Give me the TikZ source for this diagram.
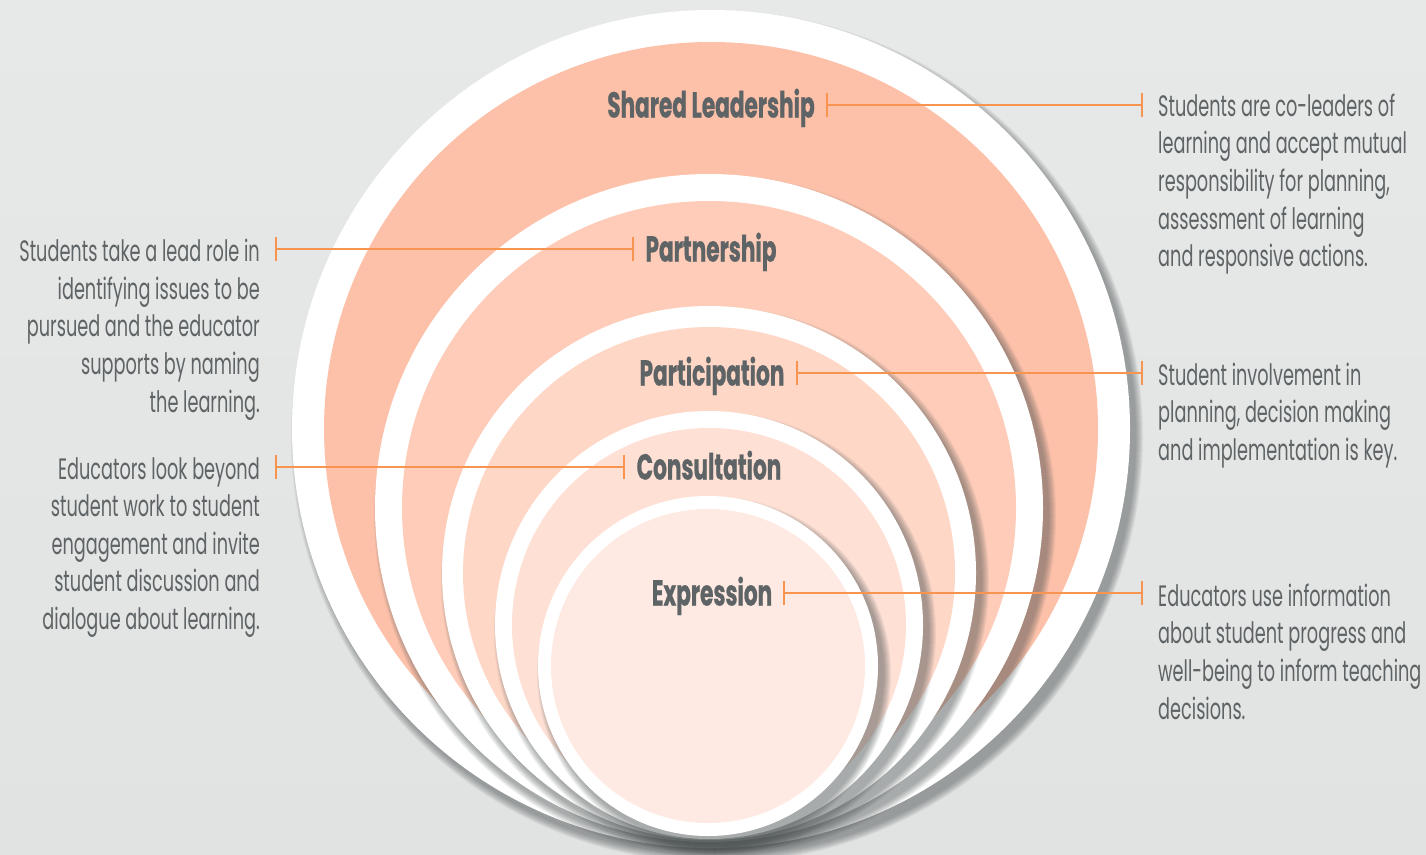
\documentclass[tikz,border=0pt]{standalone}
\usepackage{fontspec}
\usetikzlibrary{arrows.meta}
\newfontfamily\descfont{Poppins}[FakeStretch=0.6]
\newfontfamily\lblfont{Poppins}[FakeStretch=0.6, FakeBold=0.7]

\definecolor{bgTop}{HTML}{E7E8E8}
\definecolor{bgBottom}{HTML}{E1E2E2}
\definecolor{textGray}{HTML}{5E6465}
\definecolor{shadowGray}{HTML}{4A5050}
\definecolor{lineOrange}{HTML}{F79450}
\definecolor{sharedFill}{HTML}{FDC1AA}
\definecolor{partnerFill}{HTML}{FECCB8}
\definecolor{participFill}{HTML}{FED7C7}
\definecolor{consultFill}{HTML}{FEE0D5}
\definecolor{expressFill}{HTML}{FEEAE3}

% soft shadow of a ring: centre x, centre y, radius
\newcommand{\ringshadow}[3]{%
  \foreach \k in {0,...,7} {\fill[shadowGray, opacity=0.075] ({#1+6},{#2+8}) circle ({(#3+\k)*1pt});}
}

\tikzset{
  lbl/.style={font=\lblfont\bfseries\fontsize{36}{40}\selectfont, text=textGray,
    inner xsep=11pt, inner ysep=0pt, text height=25pt, text depth=0pt},
  desc/.style={font=\descfont\fontsize{29.5}{37.6}\selectfont, text=textGray,
    inner xsep=15pt, inner ysep=0pt},
  tick/.style={draw=lineOrange, line width=2pt, {Bar[width=24pt]}-{Bar[width=24pt]}}
}

\begin{document}
\begin{tikzpicture}[x=1pt, y=-1pt]
\useasboundingbox (0,0) rectangle (1426,854);
\shade[top color=bgTop, bottom color=bgBottom] (0,0) rectangle (1426,854);

% nested rings, outside in
\ringshadow{711}{429}{419}
\fill[white] (711,429) circle (419pt);
\fill[sharedFill] (711,429) circle (387pt);
\ringshadow{709}{508}{334}
\fill[white] (709,508) circle (334pt);
\fill[partnerFill] (709,508) circle (307pt);
\ringshadow{709}{573}{267}
\fill[white] (709,573) circle (267pt);
\fill[participFill] (709,573) circle (246pt);
\ringshadow{709}{625}{214}
\fill[white] (709,625) circle (214pt);
\fill[consultFill] (709,625) circle (197pt);
\ringshadow{708}{666}{170}
\fill[white] (708,666) circle (170pt);
\fill[expressFill] (708,666) circle (157pt);

% ring labels
\node[lbl] (shared) at (711,105) {Shared Leadership};
\node[lbl] (partner) at (711,249) {Partnership};
\node[lbl] (particip) at (712,373) {Participation};
\node[lbl] (consult) at (709,467) {Consultation};
\node[lbl] (express) at (712,593) {Expression};

% descriptions
\node[desc, anchor=north west, align=left] (sharedDesc) at (1143,93.5) {Students are co-leaders of\\learning and accept mutual\\responsibility for planning,\\assessment of learning\\and responsive actions.};
\node[desc, anchor=north west, align=left] (participDesc) at (1143,362.5) {Student involvement in\\planning, decision making\\and implementation is key.};
\node[desc, anchor=north west, align=left] (expressDesc) at (1143,583.5) {Educators use information\\about student progress and\\well-being to inform teaching\\decisions.};
\node[desc, anchor=north east, align=right] (partnerDesc) at (275,239) {Students take a lead role in\\identifying issues to be\\pursued and the educator\\supports by naming\\the learning.};
\node[desc, anchor=north east, align=right] (consultDesc) at (275,457) {Educators look beyond\\student work to student\\engagement and invite\\student discussion and\\dialogue about learning.};

% connectors
\draw[tick] (shared.east) -- (shared.east -| sharedDesc.west);
\draw[tick] (particip.east) -- (particip.east -| participDesc.west);
\draw[tick] (express.east) -- (express.east -| expressDesc.west);
\draw[tick] (partner.west) -- (partner.west -| partnerDesc.east);
\draw[tick] (consult.west) -- (consult.west -| consultDesc.east);
\end{tikzpicture}
\end{document}
